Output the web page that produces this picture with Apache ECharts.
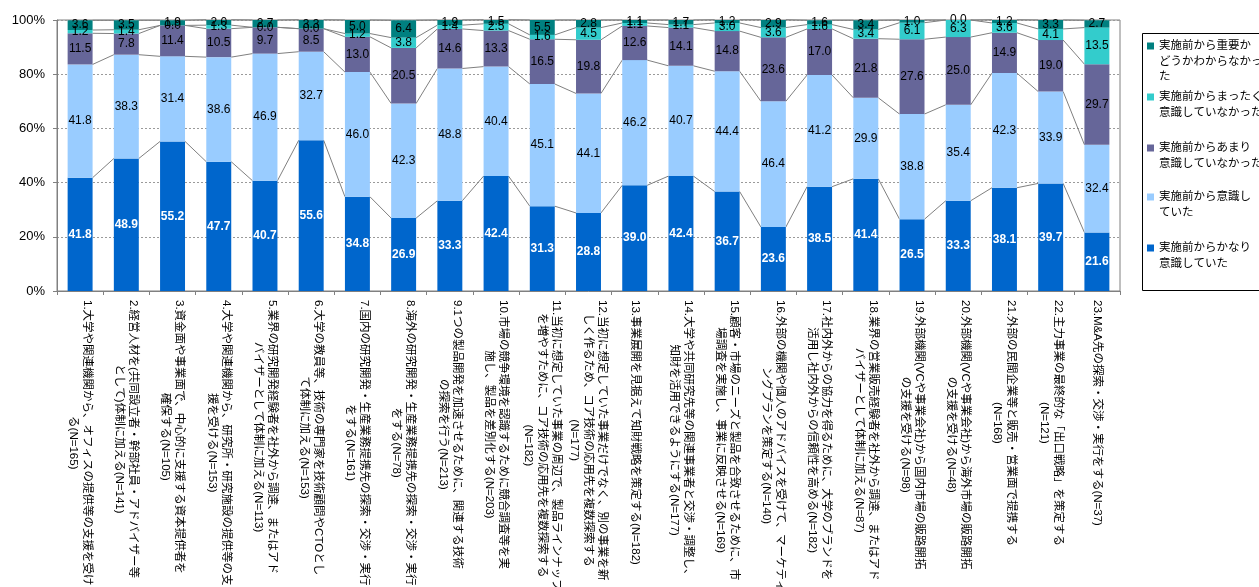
<!DOCTYPE html>
<html>
<head>
<meta charset="utf-8">
<script src="https://cdn.jsdelivr.net/npm/echarts@6/dist/echarts.min.js"></script>
<style>
  html, body { margin: 0; padding: 0; background: #fff; }
  #chart { width: 1259px; height: 587px; }
</style>
</head>
<body>
<div id="chart"></div>
<script>
// Category labels (line breaks as printed under each bar)
const categories = [
  "1.大学や関連機関から、オフィスの提供等の支援を受け\nる(N=165)",
  "2.経営人材を(共同設立者・幹部社員・アドバイザー等\nとして)体制に加える(N=141)",
  "3.資金面や事業面で、中心的に支援する資本提供者を\n確保する(N=105)",
  "4.大学や関連機関から、研究所・研究施設の提供等の支\n援を受ける(N=153)",
  "5.業界の研究開発経験者を社外から調達、またはアド\nバイザーとして体制に加える(N=113)",
  "6.大学の教員等、技術の専門家を技術顧問やCTOとし\nて体制に加える(N=153)",
  "7.国内の研究開発・生産業務提携先の探索・交渉・実行\nをする(N=161)",
  "8.海外の研究開発・生産業務提携先の探索・交渉・実行\nをする(N=78)",
  "9.1つの製品開発を加速させるために、関連する技術\nの探索を行う(N=213)",
  "10.市場の競争環境を認識するために競合調査等を実\n施し、製品を差別化する(N=203)",
  "11.当初に想定していた事業の周辺で、製品ラインナップ\nを増やすために、コア技術の応用先を複数探索する\n(N=182)",
  "12.当初に想定していた事業だけでなく、別の事業を新\nしく作るため、コア技術の応用先を複数探索する\n(N=177)",
  "13.事業展開を見据えて知財戦略を策定する(N=182)",
  "14.大学や共同研究先等の関連事業者と交渉・調整し、\n知財を活用できるようにする(N=177)",
  "15.顧客・市場のニーズと製品を合致させるために、市\n場調査を実施し、事業に反映させる(N=169)",
  "16.外部の機関や個人のアドバイスを受けて、マーケティ\nングプランを策定する(N=140)",
  "17.社内外からの協力を得るために、大学のブランドを\n活用し社内外からの信頼性を高める(N=182)",
  "18.業界の営業販売経験者を社外から調達、またはアド\nバイザーとして体制に加える(N=87)",
  "19.外部機関(VCや事業会社)から国内市場の販路開拓\nの支援を受ける(N=98)",
  "20.外部機関(VCや事業会社)から海外市場の販路開拓\nの支援を受ける(N=48)",
  "21.外部の民間企業等と販売・営業面で提携する\n(N=168)",
  "22.主力事業の最終的な「出口戦略」を策定する\n(N=121)",
  "23.M&A先の探索・交渉・実行をする(N=37)"
];

// Series (bottom to top of each stacked bar), in percent
const veryAware = [41.8, 48.9, 55.2, 47.7, 40.7, 55.6, 34.8, 26.9, 33.3, 42.4, 31.3, 28.8, 39.0, 42.4, 36.7, 23.6, 38.5, 41.4, 26.5, 33.3, 38.1, 39.7, 21.6];
const aware     = [41.8, 38.3, 31.4, 38.6, 46.9, 32.7, 46.0, 42.3, 48.8, 40.4, 45.1, 44.1, 46.2, 40.7, 44.4, 46.4, 41.2, 29.9, 38.8, 35.4, 42.3, 33.9, 32.4];
const notMuch   = [11.5, 7.8, 11.4, 10.5, 9.7, 8.5, 13.0, 20.5, 14.6, 13.3, 16.5, 19.8, 12.6, 14.1, 14.8, 23.6, 17.0, 21.8, 27.6, 25.0, 14.9, 19.0, 29.7];
const notAtAll  = [1.2, 1.4, 0.0, 1.3, 0.0, 0.0, 1.2, 3.8, 1.4, 2.5, 1.6, 4.5, 1.1, 1.1, 3.0, 3.6, 1.6, 3.4, 6.1, 6.3, 3.6, 4.1, 13.5];
const unsure    = [3.6, 3.5, 1.9, 2.0, 2.7, 3.3, 5.0, 6.4, 1.9, 1.5, 5.5, 2.8, 1.1, 1.7, 1.2, 2.9, 1.6, 3.4, 1.0, 0.0, 1.2, 3.3, 2.7];

const seriesNames = [
  "実施前からかなり意識していた",
  "実施前から意識していた",
  "実施前からあまり意識していなかった",
  "実施前からまったく意識していなかった",
  "実施前から重要かどうかわからなかった"
];
// Legend text as wrapped in the key box
const legendLabels = [
  "実施前からかなり\n意識していた",
  "実施前から意識し\nていた",
  "実施前からあまり\n意識していなかった",
  "実施前からまったく\n意識していなかった",
  "実施前から重要か\nどうかわからなかっ\nた"
];
const yTicks = [0, 20, 40, 60, 80, 100];

const stacks = [veryAware, aware, notMuch, notAtAll, unsure];
const colors = ["#0066CC", "#99CCFF", "#666699", "#33CCCC", "#008080"];
const FONT = '"Liberation Sans", Arial, "Noto Sans CJK JP", sans-serif';
const BAR_RATIO = 0.54;
const CAT_FONT_SIZE = 11.5;
const CAT_LINE_HEIGHT = 14;

// Running totals used for the connector lines between neighbouring bars
const cum = categories.map((_, i) => { let s = 0; return stacks.map(a => (s += a[i])); });
const connectorData = [];
for (let k = 0; k < stacks.length; k++) {
  for (let i = 0; i < categories.length - 1; i++) {
    connectorData.push([i, cum[i][k], cum[i + 1][k]]);
  }
}

// Category labels: every line is a rich token whose left padding centres it
// against the longest line of the same label.
const measureCtx = document.createElement("canvas").getContext("2d");
measureCtx.font = "normal normal " + CAT_FONT_SIZE + "px " + FONT;
const catRich = {};
const catFormatted = categories.map((c, i) => {
  const lines = c.split("\n");
  const widths = lines.map(s => measureCtx.measureText(s).width);
  const maxW = Math.max(...widths);
  return lines.map((s, n) => {
    const key = "c" + i + "_" + n;
    catRich[key] = {
      fontFamily: FONT, fontSize: CAT_FONT_SIZE, lineHeight: CAT_LINE_HEIGHT, color: "#000",
      padding: [0, 0, 0, (maxW - widths[n]) / 2]
    };
    return "{" + key + "|" + s + "}";
  }).join("\n");
});

const barSeries = stacks.map((arr, k) => ({
  name: seriesNames[k],
  type: "bar",
  stack: "total",
  barWidth: (BAR_RATIO * 100) + "%",
  data: arr,
  itemStyle: { color: colors[k] },
  label: {
    show: true,
    position: "inside",
    formatter: p => Number(p.value).toFixed(1),
    fontFamily: FONT,
    fontSize: 12,
    color: k === 0 ? "#fff" : "#000",
    fontWeight: k === 0 ? "bold" : "normal"
  },
  emphasis: { disabled: true },
  z: 3
}));

const connectorSeries = {
  name: "connectors",
  type: "custom",
  silent: true,
  data: connectorData,
  encode: { x: 0, y: [1, 2] },
  renderItem: function (params, api) {
    const i = api.value(0);
    const a = api.coord([i, api.value(1)]);
    const b = api.coord([i + 1, api.value(2)]);
    const half = api.size([1, 0])[0] * BAR_RATIO / 2;
    return {
      type: "line",
      shape: { x1: a[0] + half, y1: a[1], x2: b[0] - half, y2: b[1] },
      style: { stroke: "#808080", lineWidth: 1 }
    };
  },
  z: 2
};

// Key entries, listed top to bottom (last series first).
// The legend shows the icon with the first line; further lines follow below it.
const LH = 15.5;
const LEGEND_LEFT = 1147;
const legendCenters = [46, 97, 148, 197, 248];
const legendOrder = [4, 3, 2, 1, 0];
const legends = legendOrder.map((k, j) => ({
  left: LEGEND_LEFT,
  top: legendCenters[j] - LH / 2,
  orient: "vertical",
  padding: 0,
  itemWidth: 7,
  itemHeight: 7,
  icon: "rect",
  selectedMode: false,
  data: [{ name: seriesNames[k] }],
  formatter: () => legendLabels[k].split("\n")[0],
  textStyle: { fontFamily: FONT, fontSize: 11.5, lineHeight: LH, color: "#000" }
}));
const legendMoreLines = [];
legendOrder.forEach((k, j) => {
  legendLabels[k].split("\n").slice(1).forEach((line, n) => {
    legendMoreLines.push({
      type: "text",
      silent: true,
      x: LEGEND_LEFT + 7 + 5,
      y: legendCenters[j] + (n + 1) * LH,
      style: { text: line, font: "11.5px " + FONT, fill: "#000", verticalAlign: "middle", align: "left" },
      z: 100
    });
  });
});

const chart = echarts.init(document.getElementById("chart"), null, { renderer: "canvas" });
chart.setOption({
  animation: false,
  backgroundColor: "#fff",
  grid: {
    left: 57, right: 139, top: 20, bottom: 296,
    containLabel: false,
    outerBoundsMode: "none",
    show: true, borderColor: "#808080", borderWidth: 1, backgroundColor: "transparent"
  },
  legend: legends,
  graphic: [{
    type: "rect",
    shape: { x: 1142.5, y: 33.5, width: 160, height: 257 },
    style: { fill: "none", stroke: "#000", lineWidth: 1 },
    silent: true,
    z: 100
  }].concat(legendMoreLines),
  xAxis: {
    type: "category",
    data: categories.map((c, i) => String(i)),
    axisLine: { lineStyle: { color: "#808080", width: 1 } },
    axisTick: { show: true, length: 4, interval: 0, alignWithLabel: false, lineStyle: { color: "#808080" } },
    axisLabel: {
      interval: 0,
      rotate: -90,
      margin: 9,
      hideOverlap: false,
      formatter: (v, i) => catFormatted[i],
      rich: catRich
    }
  },
  yAxis: {
    type: "value",
    min: yTicks[0],
    max: yTicks[yTicks.length - 1],
    interval: yTicks[1] - yTicks[0],
    axisLine: { show: true, lineStyle: { color: "#808080", width: 1 } },
    axisTick: { show: true, length: 4, lineStyle: { color: "#808080" } },
    axisLabel: { formatter: "{value}%", fontFamily: FONT, fontSize: 13, color: "#000", margin: 12 },
    splitLine: { show: true, lineStyle: { color: "#9a9a9a", type: [2, 2], width: 1 } }
  },
  series: [...barSeries, connectorSeries]
});
</script>
</body>
</html>
